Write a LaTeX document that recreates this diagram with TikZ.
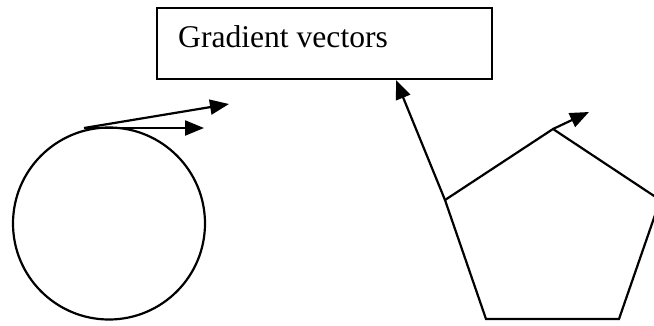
\documentclass[tikz,border=0pt]{standalone}
\usepackage{fontspec}
\setmainfont{Liberation Serif}
\usetikzlibrary{arrows.meta}
\begin{document}
\begin{tikzpicture}[x=1pt,y=-1pt,
  shape line/.style={line width=2.2pt, black},
  vec/.style={line width=2.2pt, black, -{Triangle[length=19pt,width=15pt]}}]
\useasboundingbox (0,0) rectangle (654,325);
\begin{scope}
\clip (0,0) rectangle (654,325);
% box
\node[draw, shape line, minimum width=335pt, minimum height=71pt, inner sep=0pt] (box) at (324.5,43.5) {};
\node[anchor=base west, inner sep=0pt, font=\fontsize{31.6}{38}\selectfont] (lbl) at (178,47) {Gradient vectors};
% circle
\node[draw, shape line, circle, minimum size=192pt, inner sep=0pt] (circ) at (109,223.5) {};
\coordinate (t) at (84,128);
\coordinate (h1) at (204,128);
\coordinate (h2) at (229,104);
\draw[vec] (t) -- (h1);
\draw[vec] (t) -- (h2);
% pentagon
\coordinate (p1) at (553,129);
\coordinate (p2) at (660.2,200);
\coordinate (p3) at (619,319);
\coordinate (p4) at (486,319);
\coordinate (p5) at (445,200);
\draw[shape line, line join=miter] (p1) -- (p2) -- (p3) -- (p4) -- (p5) -- cycle;
\coordinate (g1) at (396,80);
\coordinate (g2) at (589,112);
\draw[vec] (p5) -- (g1);
\draw[vec] (p1) -- (g2);
\end{scope}
\end{tikzpicture}
\end{document}
